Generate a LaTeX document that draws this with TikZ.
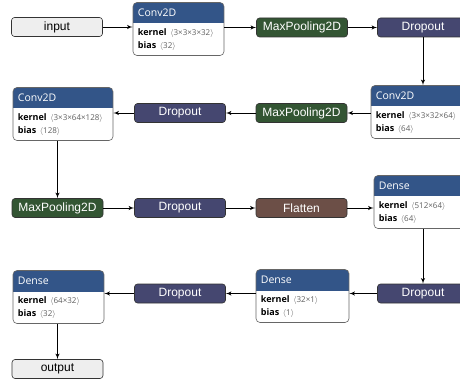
\documentclass[tikz,border=0pt]{standalone}
\usepackage{fontspec}
\setmainfont{Liberation Sans}
\newfontfamily\layerfont{Open Sans}
\usetikzlibrary{arrows}
\tikzset{>=latex}
\definecolor{convblue}{RGB}{51,85,136}
\definecolor{poolgreen}{RGB}{51,85,51}
\definecolor{droppurple}{RGB}{69,71,112}
\definecolor{flatbrown}{RGB}{108,79,71}
\definecolor{iogray}{RGB}{238,238,238}
\definecolor{dimgray}{RGB}{95,95,95}
\newcommand\dims[1]{{\fontsize{8}{9}\selectfont\color{dimgray}\,$\langle$#1$\rangle$}}

\begin{document}
\begin{tikzpicture}[x=1pt,y=-1pt]
	\tikzset{edge/.style = {->,> = latex', line width=0.9pt}}
	\tikzset{op/.style = {rounded corners=3pt, draw=black!80, line width=0.6pt, minimum width=91pt, minimum height=19pt, inner sep=0pt, text=white, font=\fontsize{12}{14}\selectfont}}
	\tikzset{io/.style = {op, fill=iogray, text=black}}
	\tikzset{pool/.style = {op, fill=poolgreen}}
	\tikzset{drop/.style = {op, fill=droppurple}}
	\tikzset{flat/.style = {op, fill=flatbrown}}
	\tikzset{layer/.style = {rounded corners=4pt, draw=black!60, fill=white, line width=0.6pt, minimum height=53pt, inner sep=0pt,
		path picture={\fill[convblue, sharp corners] (path picture bounding box.north west) rectangle ([yshift=-21pt]path picture bounding box.north east);}}}
	\tikzset{title/.style = {anchor=west, inner sep=0pt, text=white, font=\layerfont\fontsize{10.5}{12}\selectfont}}
	\tikzset{attr/.style = {anchor=west, inner sep=0pt, font=\layerfont\fontsize{9}{10}\selectfont}}

	\useasboundingbox (0,0) rectangle (460,379);

	% row 1
	\node[io] (input) at (57,27) {input};
	\node[layer, minimum width=91pt] (conv1) at (178.5,29) {};
	\node[title] (conv1-name) at ([xshift=5pt,yshift=-11pt]conv1.north west) {Conv2D};
	\node[attr] (conv1-kernel) at ([xshift=5pt,yshift=-31pt]conv1.north west) {\textbf{kernel} \dims{3×3×3×32}};
	\node[attr] (conv1-bias) at ([xshift=5pt,yshift=-44pt]conv1.north west) {\textbf{bias} \dims{32}};
	\node[pool] (pool1) at (302,27.5) {MaxPooling2D};
	\node[drop] (drop1) at (423,27.5) {Dropout};

	% row 2
	\node[layer, minimum width=100pt] (conv2) at (421,112) {};
	\node[title] (conv2-name) at ([xshift=5pt,yshift=-11pt]conv2.north west) {Conv2D};
	\node[attr] (conv2-kernel) at ([xshift=5pt,yshift=-31pt]conv2.north west) {\textbf{kernel} \dims{3×3×32×64}};
	\node[attr] (conv2-bias) at ([xshift=5pt,yshift=-44pt]conv2.north west) {\textbf{bias} \dims{64}};
	\node[pool] (pool2) at (301.5,113) {MaxPooling2D};
	\node[drop] (drop2) at (180,113) {Dropout};
	\node[layer, minimum width=100pt] (conv3) at (63,114) {};
	\node[title] (conv3-name) at ([xshift=5pt,yshift=-11pt]conv3.north west) {Conv2D};
	\node[attr] (conv3-kernel) at ([xshift=5pt,yshift=-31pt]conv3.north west) {\textbf{kernel} \dims{3×3×64×128}};
	\node[attr] (conv3-bias) at ([xshift=5pt,yshift=-44pt]conv3.north west) {\textbf{bias} \dims{128}};

	% row 3
	\node[pool] (pool3) at (57.5,208) {MaxPooling2D};
	\node[drop] (drop3) at (180,208) {Dropout};
	\node[flat] (flat) at (301.5,208) {Flatten};
	\node[layer, minimum width=91pt] (dense1) at (419.5,202) {};
	\node[title] (dense1-name) at ([xshift=5pt,yshift=-11pt]dense1.north west) {Dense};
	\node[attr] (dense1-kernel) at ([xshift=5pt,yshift=-31pt]dense1.north west) {\textbf{kernel} \dims{512×64}};
	\node[attr] (dense1-bias) at ([xshift=5pt,yshift=-44pt]dense1.north west) {\textbf{bias} \dims{64}};

	% row 4
	\node[drop] (drop4) at (423,293.5) {Dropout};
	\node[layer, minimum width=93pt] (dense2) at (302.5,296) {};
	\node[title] (dense2-name) at ([xshift=5pt,yshift=-11pt]dense2.north west) {Dense};
	\node[attr] (dense2-kernel) at ([xshift=5pt,yshift=-31pt]dense2.north west) {\textbf{kernel} \dims{32×1}};
	\node[attr] (dense2-bias) at ([xshift=5pt,yshift=-44pt]dense2.north west) {\textbf{bias} \dims{1}};
	\node[drop] (drop5) at (180,293.5) {Dropout};
	\node[layer, minimum width=91pt] (dense3) at (58.5,297) {};
	\node[title] (dense3-name) at ([xshift=5pt,yshift=-11pt]dense3.north west) {Dense};
	\node[attr] (dense3-kernel) at ([xshift=5pt,yshift=-31pt]dense3.north west) {\textbf{kernel} \dims{64×32}};
	\node[attr] (dense3-bias) at ([xshift=5pt,yshift=-44pt]dense3.north west) {\textbf{bias} \dims{32}};
	\node[io] (output) at (57.5,369) {output};

	\draw[edge] (input) -- (conv1.west |- input);
	\draw[edge] (conv1.east |- pool1) -- (pool1);
	\draw[edge] (pool1) -- (drop1);
	\draw[edge] (drop1) -- (conv2.north -| drop1);
	\draw[edge] (conv2.west |- pool2) -- (pool2);
	\draw[edge] (pool2) -- (drop2);
	\draw[edge] (drop2) -- (conv3.east |- drop2);
	\draw[edge] (conv3.south -| pool3) -- (pool3);
	\draw[edge] (pool3) -- (drop3);
	\draw[edge] (drop3) -- (flat);
	\draw[edge] (flat) -- (dense1.west |- flat);
	\draw[edge] (dense1.south -| drop4) -- (drop4);
	\draw[edge] (drop4) -- (dense2.east |- drop4);
	\draw[edge] (dense2.west |- drop5) -- (drop5);
	\draw[edge] (drop5) -- (dense3.east |- drop5);
	\draw[edge] (dense3.south -| output) -- (output);
\end{tikzpicture}
\end{document}
